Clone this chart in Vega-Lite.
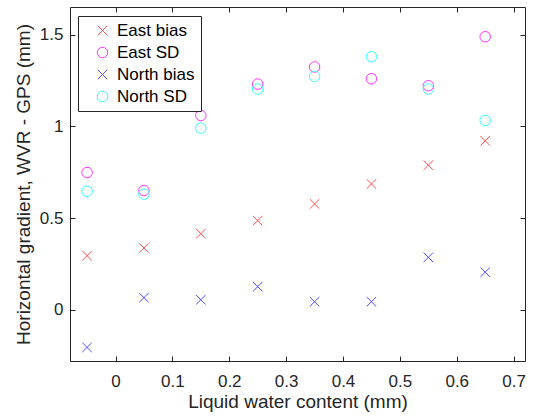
{
  "$schema": "https://vega.github.io/schema/vega-lite/v6.json",
  "width": 455,
  "height": 354,
  "autosize": "none",
  "padding": {"left": 70, "top": 7, "right": 10, "bottom": 55},
  "background": "white",
  "config": {
    "font": "Liberation Sans",
    "view": {"stroke": null},
    "axis": {
      "grid": false,
      "domainColor": "#262626",
      "domainWidth": 1,
      "tickColor": "#262626",
      "tickSize": -5,
      "tickWidth": 1,
      "labelColor": "#262626",
      "labelFont": "Liberation Sans",
      "labelFontSize": 17,
      "titleColor": "#262626",
      "titleFont": "Liberation Sans",
      "titleFontSize": 19,
      "titleFontWeight": "normal"
    }
  },
  "data": {
    "values": [
      {"lwc": -0.05, "value": 0.296, "series": "East bias"},
      {"lwc": 0.05, "value": 0.338, "series": "East bias"},
      {"lwc": 0.15, "value": 0.416, "series": "East bias"},
      {"lwc": 0.25, "value": 0.487, "series": "East bias"},
      {"lwc": 0.35, "value": 0.578, "series": "East bias"},
      {"lwc": 0.45, "value": 0.687, "series": "East bias"},
      {"lwc": 0.55, "value": 0.789, "series": "East bias"},
      {"lwc": 0.65, "value": 0.922, "series": "East bias"},
      {"lwc": -0.05, "value": 0.749, "series": "East SD"},
      {"lwc": 0.05, "value": 0.651, "series": "East SD"},
      {"lwc": 0.15, "value": 1.060, "series": "East SD"},
      {"lwc": 0.25, "value": 1.231, "series": "East SD"},
      {"lwc": 0.35, "value": 1.324, "series": "East SD"},
      {"lwc": 0.45, "value": 1.260, "series": "East SD"},
      {"lwc": 0.55, "value": 1.222, "series": "East SD"},
      {"lwc": 0.65, "value": 1.489, "series": "East SD"},
      {"lwc": -0.05, "value": -0.204, "series": "North bias"},
      {"lwc": 0.05, "value": 0.067, "series": "North bias"},
      {"lwc": 0.15, "value": 0.056, "series": "North bias"},
      {"lwc": 0.25, "value": 0.127, "series": "North bias"},
      {"lwc": 0.35, "value": 0.045, "series": "North bias"},
      {"lwc": 0.45, "value": 0.045, "series": "North bias"},
      {"lwc": 0.55, "value": 0.287, "series": "North bias"},
      {"lwc": 0.65, "value": 0.206, "series": "North bias"},
      {"lwc": -0.05, "value": 0.647, "series": "North SD"},
      {"lwc": 0.05, "value": 0.631, "series": "North SD"},
      {"lwc": 0.15, "value": 0.991, "series": "North SD"},
      {"lwc": 0.25, "value": 1.204, "series": "North SD"},
      {"lwc": 0.35, "value": 1.273, "series": "North SD"},
      {"lwc": 0.45, "value": 1.380, "series": "North SD"},
      {"lwc": 0.55, "value": 1.204, "series": "North SD"},
      {"lwc": 0.65, "value": 1.033, "series": "North SD"}
    ]
  },
  "layer": [
    {
      "mark": {"type": "point", "filled": false, "strokeWidth": 1, "size": 110, "opacity": 1},
      "encoding": {
        "x": {
          "field": "lwc", "type": "quantitative",
          "scale": {"domain": [-0.08, 0.72], "nice": false, "zero": false},
          "axis": {"orient": "bottom", "values": [0, 0.1, 0.2, 0.3, 0.4, 0.5, 0.6, 0.7], "labelPadding": 17, "titlePadding": 3, "title": "Liquid water content (mm)", "format": "~g"}
        },
        "y": {
          "field": "value", "type": "quantitative",
          "scale": {"domain": [-0.278, 1.651], "nice": false, "zero": false},
          "axis": {"orient": "left", "values": [0, 0.5, 1, 1.5], "labelPadding": 12, "titlePadding": 6, "title": "Horizontal gradient, WVR - GPS (mm)", "format": "~g"}
        },
        "color": {
          "field": "series", "type": "nominal",
          "scale": {"domain": ["East bias", "East SD", "North bias", "North SD"], "range": ["#ff4d4d", "#ff33ff", "#4d4dff", "#33ffff"]},
          "legend": {
            "title": null, "orient": "none", "legendX": 8, "legendY": 9,
            "fillColor": "white", "strokeColor": "#262626", "padding": 6,
            "labelFontSize": 17, "labelColor": "#000000", "labelFont": "Liberation Sans",
            "symbolSize": 110, "symbolStrokeWidth": 1, "symbolOffset": 10,
            "labelOffset": 6, "rowPadding": 4
          }
        },
        "shape": {
          "field": "series", "type": "nominal",
          "scale": {"domain": ["East bias", "East SD", "North bias", "North SD"], "range": ["M-0.9,-0.9L0.9,0.9M-0.9,0.9L0.9,-0.9", "circle", "M-0.9,-0.9L0.9,0.9M-0.9,0.9L0.9,-0.9", "circle"]},
          "legend": null
        }
      }
    },
    {
      "mark": {"type": "point", "opacity": 0},
      "encoding": {
        "x": {"field": "lwc", "type": "quantitative", "axis": {"orient": "top", "values": [0, 0.1, 0.2, 0.3, 0.4, 0.5, 0.6, 0.7], "labels": false, "title": null}},
        "y": {"field": "value", "type": "quantitative", "axis": {"orient": "right", "values": [0, 0.5, 1, 1.5], "labels": false, "title": null}}
      }
    }
  ],
  "resolve": {"axis": {"x": "independent", "y": "independent"}}
}
